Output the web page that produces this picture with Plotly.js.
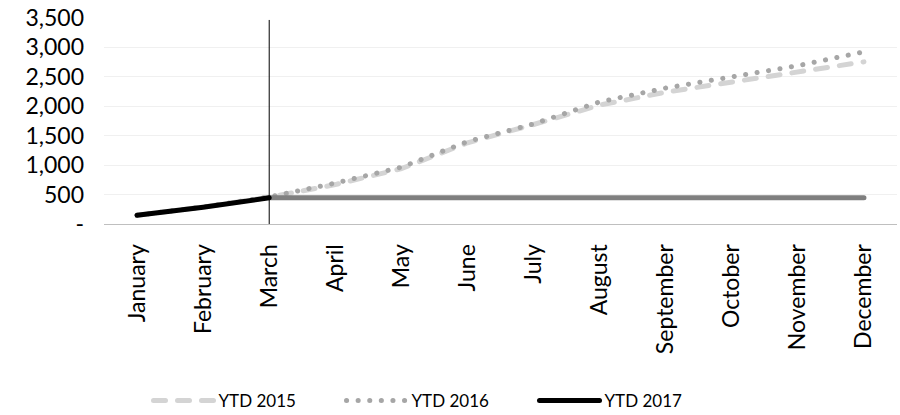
<!DOCTYPE html>
<html>
<head>
<meta charset="utf-8">
<script src="https://cdn.plot.ly/plotly-3.0.1.min.js"></script>
<style>html,body{margin:0;padding:0;background:#fff;}#chart{width:900px;height:415px;}</style>
</head>
<body>
<div id="chart"></div>
<script>
const months = ['January','February','March','April','May','June','July','August','September','October','November','December'];
const ytd2015 = [150, 290, 455, 670, 940, 1380, 1690, 2020, 2240, 2410, 2580, 2755];
const ytd2016 = [150, 290, 460, 695, 965, 1400, 1700, 2075, 2310, 2500, 2690, 2925];
const ytd2017 = [150, 285, 445];
const ytd2017Months = ['January','February','March'];
const flatMonths = ['March','April','May','June','July','August','September','October','November','December'];
const flatValues = [445, 445, 445, 445, 445, 445, 445, 445, 445, 445];
const markerX = ['March','March'];
const markerY = [0, 3460];
const yTickVals = [0, 500, 1000, 1500, 2000, 2500, 3000, 3500];
const yTickText = ['-', '500', '1,000', '1,500', '2,000', '2,500', '3,000', '3,500'];

const FONT = 'Lato, "Open Sans", sans-serif';

const traces = [
  {x: months, y: ytd2015, name: 'YTD 2015', type: 'scatter', mode: 'lines',
   line: {color: '#d4d4d4', width: 5, dash: '12px,12px'}},
  {x: months, y: ytd2016, name: 'YTD 2016', type: 'scatter', mode: 'lines',
   line: {color: '#a6a6a6', width: 5, dash: '0.1px,11.5px'}},
  {x: flatMonths, y: flatValues, name: 'flat', type: 'scatter', mode: 'lines', showlegend: false,
   line: {color: '#7f7f7f', width: 5}},
  {x: ytd2017Months, y: ytd2017, name: 'YTD 2017', type: 'scatter', mode: 'lines',
   line: {color: '#000000', width: 5}},
  {x: markerX, y: markerY, name: 'marker', type: 'scatter', mode: 'lines', showlegend: false,
   line: {color: '#000000', width: 1}}
];

const layout = {
  width: 900, height: 415,
  margin: {l: 104, r: 3, t: 18, b: 191},
  paper_bgcolor: '#ffffff', plot_bgcolor: '#ffffff',
  font: {family: FONT, size: 18, color: '#000000'},
  showlegend: true,
  legend: {orientation: 'h', xref: 'container', yref: 'container', x: 0.165, xanchor: 'left',
           y: 0.034, yanchor: 'middle', entrywidth: 118, entrywidthmode: 'pixels',
           font: {family: FONT, size: 17, color: '#000'}, traceorder: 'normal', itemwidth: 60},
  xaxis: {type: 'category', categoryorder: 'array', categoryarray: months,
          tickangle: -90, showgrid: false, zeroline: false, automargin: false,
          showline: true, linecolor: '#bfbfbf', linewidth: 1, ticks: '',
          ticklabelstandoff: 10, range: [-0.5, 11.5],
          tickfont: {family: FONT, size: 23, color: '#000'}},
  yaxis: {range: [0, 3500], tickvals: yTickVals, ticktext: yTickText, automargin: false,
          showgrid: true, gridcolor: '#f0f0f0', gridwidth: 1, zeroline: false,
          showline: false, ticks: '', ticklabelstandoff: 19,
          tickfont: {family: FONT, size: 23, color: '#000'}}
};

Plotly.newPlot('chart', traces, layout, {displayModeBar: false, staticPlot: true}).then(function (gd) {
  gd.querySelectorAll('.scatterlayer path.js-line, .legend .legendlines path').forEach(function (p) {
    p.style.strokeLinecap = 'round';
  });
});
</script>
</body>
</html>
